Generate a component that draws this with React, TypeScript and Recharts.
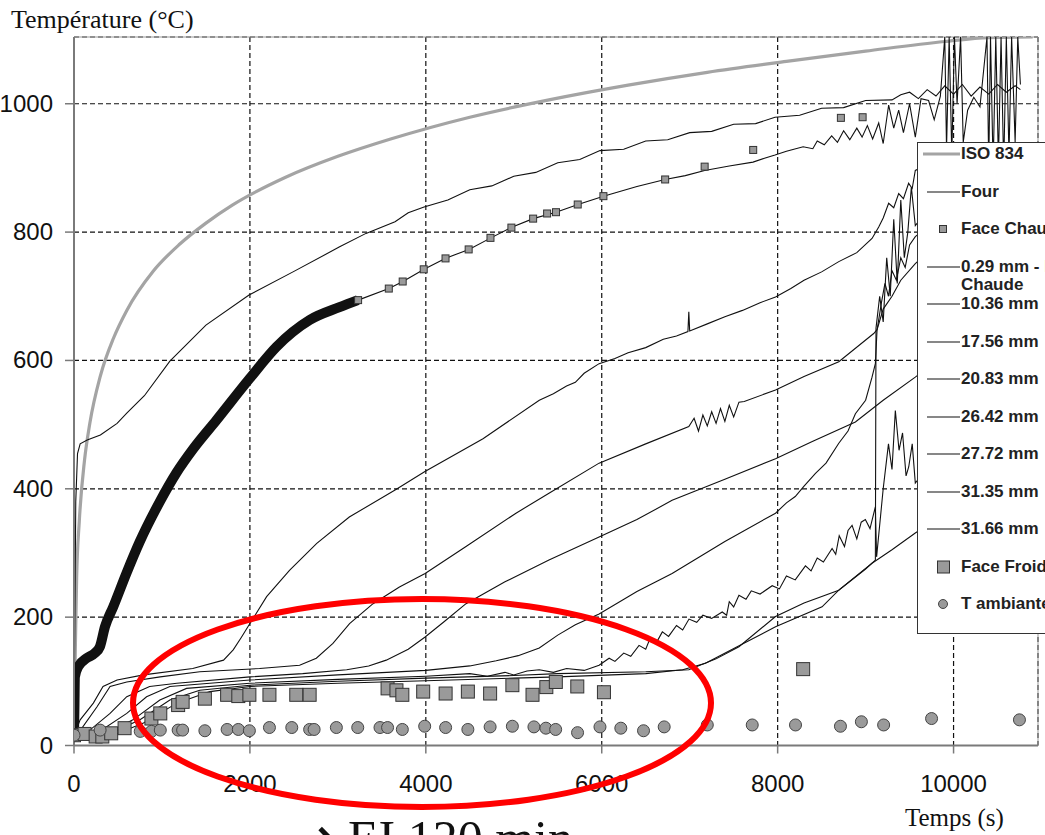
import { ComposedChart, Line, XAxis, YAxis, CartesianGrid, ReferenceLine } from "recharts";

type Pair = [number, number];

// temps (s) / température (°C)
const X_MAX = 10960;
const Y_MAX = 1104;
const X_TICKS = [0, 2000, 4000, 6000, 8000, 10000];
const Y_TICKS = [0, 200, 400, 600, 800, 1000];

const ISO_834: Pair[] = [
  [0, 20], [15, 150], [30, 261], [60, 349], [120, 445], [180, 502], [300, 576], [450, 635],
  [600, 678], [900, 739], [1200, 781], [1500, 814], [1800, 842], [2400, 885], [3000, 918],
  [3600, 945], [4500, 979], [5400, 1006], [6300, 1029], [7200, 1049], [8100, 1066],
  [9000, 1082], [9900, 1097], [10400, 1103], [10900, 1104],
];

const FOUR: Pair[] = [
  [0, 20], [20, 380], [40, 455], [70, 470], [150, 476], [300, 484], [490, 502], [600, 518],
  [800, 545], [1090, 599], [1500, 655], [1990, 702], [2490, 738], [3020, 777], [3320, 798],
  [3650, 816], [3800, 830], [3980, 839], [4250, 850], [4500, 866], [4750, 872], [5000, 887],
  [5250, 893], [5500, 908], [5750, 913], [5980, 927], [6250, 929], [6500, 942], [6750, 944],
  [7000, 955], [7250, 957], [7500, 968], [7750, 969], [7970, 979], [8250, 982], [8500, 993],
  [8750, 994], [9000, 1005], [9300, 1006], [9400, 1014], [9500, 1018], [9600, 1008],
  [9700, 1022], [9800, 1012], [9900, 1028], [10000, 1015], [10100, 1030], [10200, 1012],
  [10300, 1026], [10400, 1015], [10500, 1030], [10600, 1018], [10700, 1028], [10760, 1022],
];

// partie dense des marqueurs "Face Chaude"
const FACE_CHAUDE_DENSE: Pair[] = [
  [0, 16], [5, 60], [10, 107], [49, 123], [144, 136], [238, 144], [295, 154], [352, 185],
  [446, 216], [598, 269], [749, 318], [976, 380], [1165, 425], [1354, 462], [1620, 507],
  [1998, 572], [2300, 621], [2679, 663], [3019, 683], [3227, 694],
];

const FACE_CHAUDE: Pair[] = [
  [3230, 694], [3579, 712], [3737, 723], [3976, 742], [4224, 759], [4487, 773], [4735, 791],
  [4973, 807], [5220, 821], [5379, 829], [5480, 831], [5727, 843], [6019, 856], [6721, 882],
  [7170, 902], [7722, 928], [8719, 978], [8966, 979],
];

const MM_0_29: Pair[] = [
  [3230, 694], [3580, 712], [3740, 723], [3980, 742], [4220, 759], [4490, 773], [4740, 791],
  [4970, 807], [5220, 821], [5480, 831], [5730, 843], [6020, 856], [6400, 871], [6720, 882],
  [6950, 888], [7170, 896], [7450, 903], [7720, 909], [7850, 915], [7970, 920], [8100, 926],
  [8290, 933], [8400, 930], [8450, 942], [8530, 936], [8614, 950], [8680, 940], [8750, 958],
  [8820, 944], [8900, 962], [8960, 948], [9020, 966], [9080, 945], [9149, 970], [9200, 938],
  [9262, 998], [9320, 962], [9376, 990], [9430, 955], [9500, 1000], [9565, 948], [9630, 1008],
  [9716, 1005], [9780, 975], [9850, 1012], [9900, 1104], [9920, 930], [9950, 1104], [9980, 920],
  [10010, 1104], [10040, 1000], [10080, 1104], [10110, 940], [10160, 990], [10230, 1010],
  [10300, 995], [10380, 1104], [10400, 900], [10420, 1104], [10450, 900], [10480, 1104],
  [10510, 910], [10540, 1104], [10570, 900], [10600, 1104], [10630, 920], [10660, 1104],
  [10700, 940], [10730, 1104], [10760, 1030],
];

const MM_10_36: Pair[] = [
  [0, 16], [70, 40], [220, 66], [330, 92], [490, 102], [790, 110], [1350, 120], [1700, 133],
  [1810, 149], [1900, 168], [2000, 190], [2190, 232], [2450, 273], [2760, 315], [3130, 356],
  [3660, 399], [3990, 427], [4650, 478], [5290, 538], [5450, 548], [5600, 560], [5700, 566],
  [5800, 580], [5970, 595], [6150, 603], [6300, 612], [6500, 620], [6700, 633], [6850, 638],
  [6980, 645], [6990, 676], [7000, 646], [7200, 657], [7400, 668], [7600, 678], [7800, 690],
  [7976, 699], [8150, 712], [8300, 725], [8500, 738], [8695, 754], [8900, 768], [9073, 790],
  [9149, 808], [9200, 822], [9262, 845], [9320, 838], [9376, 860], [9430, 852], [9489, 876],
  [9530, 868], [9565, 896], [9700, 905], [10000, 915], [10400, 925],
];

const MM_17_56: Pair[] = [
  [0, 16], [100, 29], [260, 60], [410, 92], [600, 99], [980, 107], [1430, 115], [2110, 120],
  [2565, 125], [2755, 136], [2944, 159], [3133, 190], [3400, 221], [3700, 247], [3992, 268],
  [4457, 310], [5025, 362], [5400, 393], [5970, 440], [6500, 470], [6990, 497], [7050, 510],
  [7100, 490], [7150, 515], [7200, 498], [7250, 520], [7300, 502], [7350, 525], [7400, 505],
  [7450, 530], [7500, 512], [7560, 535], [7620, 536], [7976, 554], [8300, 575], [8695, 598],
  [9092, 642], [9130, 648], [9200, 680], [9300, 700], [9400, 725], [9565, 751], [9800, 780],
  [10200, 820],
];

const MM_20_83: Pair[] = [
  [0, 16], [180, 24], [410, 50], [600, 76], [860, 92], [1170, 97], [2000, 107], [2600, 112],
  [3100, 118], [3350, 124], [3550, 133], [3800, 150], [3992, 169], [4200, 192], [4457, 221],
  [4900, 255], [5400, 289], [5970, 325], [6400, 352], [6800, 382], [7400, 415], [7976, 447],
  [8400, 474], [8884, 504], [9200, 538], [9565, 574], [10000, 620], [10500, 680],
];

const MM_26_42: Pair[] = [
  [0, 16], [260, 19], [600, 50], [825, 76], [1090, 92], [1545, 97], [2000, 102], [3000, 110],
  [4000, 117], [4500, 124], [4800, 132], [5050, 140], [5290, 152], [5500, 172], [5700, 188],
  [5970, 205], [6400, 240], [6800, 268], [7400, 318], [7976, 362], [8100, 378], [8200, 388],
  [8300, 404], [8430, 424], [8550, 440], [8695, 471], [8800, 490], [8884, 517], [9000, 538],
  [9073, 574], [9111, 595], [9130, 647], [9180, 690], [9220, 720], [9260, 700], [9300, 740],
  [9350, 725], [9400, 760], [9450, 745], [9500, 780], [9565, 793], [10000, 840], [10500, 880],
];

const MM_27_72: Pair[] = [
  [0, 16], [330, 16], [670, 40], [976, 71], [1280, 89], [2000, 97], [3000, 103], [4000, 108],
  [4500, 112], [4700, 108], [4900, 114], [5000, 110], [5150, 116], [5290, 118], [5450, 114],
  [5600, 120], [5800, 117], [5970, 125], [6084, 136], [6150, 131], [6250, 144], [6330, 139],
  [6424, 156], [6500, 150], [6550, 167], [6620, 160], [6689, 177], [6760, 170], [6850, 187],
  [6920, 180], [6992, 197], [7080, 192], [7150, 203], [7250, 198], [7370, 208], [7420, 203],
  [7450, 224], [7500, 216], [7560, 234], [7640, 228], [7700, 241], [7800, 236], [7938, 249],
  [8020, 244], [8100, 264], [8200, 258], [8316, 280], [8380, 272], [8450, 292], [8520, 286],
  [8619, 307], [8660, 298], [8700, 327], [8760, 310], [8800, 335], [8846, 343], [8900, 322],
  [8950, 348], [8997, 352], [9050, 338], [9111, 372], [9125, 294], [9200, 400], [9260, 470],
  [9300, 430], [9338, 522], [9380, 460], [9420, 487], [9460, 420], [9490, 434], [9530, 470],
  [9565, 409], [9800, 450], [10200, 500],
];

const MM_31_35: Pair[] = [
  [0, 16], [370, 16], [750, 40], [1090, 71], [1430, 86], [2000, 94], [3000, 100], [4000, 105],
  [5000, 109], [5500, 112], [6500, 115], [6990, 118], [7300, 135], [7560, 154], [7976, 201],
  [8300, 222], [8695, 242], [9000, 275], [9111, 289], [9118, 650], [9160, 700], [9200, 660],
  [9240, 760], [9280, 700], [9320, 820], [9360, 720], [9400, 850], [9440, 760], [9480, 800],
  [9520, 870], [9565, 810], [9800, 850], [10200, 880],
];

const MM_31_66: Pair[] = [
  [0, 14], [410, 14], [790, 35], [1170, 66], [1545, 84], [2000, 92], [3000, 97], [4000, 101],
  [5000, 105], [5500, 107], [6500, 112], [6920, 118], [7180, 128], [7600, 158], [7976, 185],
  [8505, 216], [8695, 242], [9073, 284], [9300, 305], [9565, 331], [10000, 370], [10500, 420],
];

const FACE_FROIDE: Pair[] = [
  [0, 16], [120, 18], [246, 14], [322, 14], [423, 19], [575, 27], [880, 42], [981, 50],
  [1184, 63], [1235, 68], [1488, 73], [1741, 79], [1868, 77], [1994, 79], [2222, 79],
  [2527, 79], [2679, 79], [3565, 89], [3666, 86], [3733, 79], [3970, 84], [4225, 81],
  [4478, 84], [4731, 81], [4984, 94], [5213, 79], [5370, 91], [5478, 99], [5722, 92],
  [6025, 83], [8290, 119],
];

const T_AMBIANTE: Pair[] = [
  [0, 16], [297, 24], [753, 22], [880, 22], [981, 24], [1184, 24], [1235, 24], [1488, 23],
  [1741, 25], [1868, 25], [1994, 23], [2222, 28], [2476, 28], [2679, 25], [2730, 25],
  [2983, 28], [3226, 28], [3479, 28], [3565, 28], [3733, 25], [3987, 30], [4225, 28],
  [4478, 25], [4731, 29], [4984, 30], [5229, 29], [5365, 27], [5476, 25], [5725, 20],
  [5980, 29], [6217, 27], [6475, 23], [6710, 29], [7200, 32], [7711, 32], [8203, 32],
  [8714, 30], [8952, 37], [9205, 32], [9750, 42], [10749, 40],
];

const pts = (rows: Pair[]) => rows.map(([t, v]) => ({ t, v }));

const BLACK = "#111";
const ISO_GRAY = "#a4a4a4";
const MARK_FILL = "#9a9a9a";
const AXIS_GRAY = "#7a7a7a";
const SANS = "'Liberation Sans', Arial, sans-serif";
const SERIF = "'Liberation Serif', 'Times New Roman', serif";

const squareDot = (size: number, name: string) => (p: any) => {
  const key = `${name}-${p.index}`;
  if (p.cx == null || p.cy == null) return <g key={key} />;
  return (
    <rect key={key} x={p.cx - size / 2} y={p.cy - size / 2} width={size} height={size}
      fill={MARK_FILL} stroke="#333" strokeWidth={1} />
  );
};

const circleDot = (r: number, name: string) => (p: any) => {
  const key = `${name}-${p.index}`;
  if (p.cx == null || p.cy == null) return <g key={key} />;
  return <circle key={key} cx={p.cx} cy={p.cy} r={r} fill={MARK_FILL} stroke="#444" strokeWidth={1} />;
};

const XTick = (p: any) => (
  <text x={p.x} y={p.y} dy={36} textAnchor="middle" fontSize={24} fontFamily={SANS} fill="#111">
    {p.payload.value}
  </text>
);

const YTick = (p: any) => (
  <text x={p.x} y={p.y} dy={8} textAnchor="end" fontSize={24} fontFamily={SANS} fill="#111">
    {p.payload.value}
  </text>
);

type Kind = "iso" | "line" | "smallSquare" | "bigSquare" | "circle";

const LEGEND: { label: string[]; kind: Kind }[] = [
  { label: ["ISO 834"], kind: "iso" },
  { label: ["Four"], kind: "line" },
  { label: ["Face Chaude"], kind: "smallSquare" },
  { label: ["0.29 mm - Face", "Chaude"], kind: "line" },
  { label: ["10.36 mm"], kind: "line" },
  { label: ["17.56 mm"], kind: "line" },
  { label: ["20.83 mm"], kind: "line" },
  { label: ["26.42 mm"], kind: "line" },
  { label: ["27.72 mm"], kind: "line" },
  { label: ["31.35 mm"], kind: "line" },
  { label: ["31.66 mm"], kind: "line" },
  { label: ["Face Froide"], kind: "bigSquare" },
  { label: ["T ambiante"], kind: "circle" },
];

function LegendIcon({ kind }: { kind: Kind }) {
  return (
    <svg width={40} height={18} style={{ position: "absolute", left: 3, top: 0 }}>
      {kind === "iso" && <line x1={2} y1={9} x2={39} y2={9} stroke={ISO_GRAY} strokeWidth={3} />}
      {kind === "line" && <line x1={6} y1={9} x2={39} y2={9} stroke={BLACK} strokeWidth={1.2} />}
      {kind === "smallSquare" && <rect x={18.5} y={5.5} width={7} height={7} fill={MARK_FILL} stroke="#333" />}
      {kind === "bigSquare" && <rect x={16.5} y={3} width={12} height={12} fill={MARK_FILL} stroke="#333" />}
      {kind === "circle" && <circle cx={22} cy={9} r={4.5} fill={MARK_FILL} stroke="#444" />}
    </svg>
  );
}

function LegendBox() {
  return (
    <div style={{
      position: "absolute", left: 917, top: 142, width: 180, height: 492, background: "#fff",
      border: "1.5px solid #333", boxSizing: "border-box", fontFamily: SANS, fontWeight: 700,
      fontSize: 17, color: "#222",
    }}>
      {LEGEND.map((row, i) => (
        <div key={row.label.join(" ")} style={{ position: "absolute", left: 0, top: 2 + i * 37.5, width: 180, height: 18 }}>
          <LegendIcon kind={row.kind} />
          <div style={{ position: "absolute", left: 43, top: 0, lineHeight: "18px", whiteSpace: "nowrap" }}>
            {row.label.map((l) => <div key={l}>{l}</div>)}
          </div>
        </div>
      ))}
    </div>
  );
}

export default function App() {
  const thin = { stroke: BLACK, strokeWidth: 1.1, dot: false, activeDot: false, isAnimationActive: false } as const;
  return (
    <div style={{ position: "absolute", left: 0, top: 0, width: 1045, height: 835, overflow: "hidden", background: "#fff" }}>
      <ComposedChart width={1045} height={835} margin={{ top: 37, right: 7, bottom: 49.5, left: 14 }}>
        <CartesianGrid stroke={BLACK} strokeDasharray="5 3" strokeWidth={1.2} />
        <XAxis type="number" dataKey="t" domain={[0, X_MAX]} ticks={X_TICKS} allowDataOverflow height={40}
          tickSize={8} tickMargin={2} tick={<XTick />} axisLine={{ stroke: AXIS_GRAY, strokeWidth: 2 }}
          tickLine={{ stroke: AXIS_GRAY, strokeWidth: 1.5 }} />
        <YAxis type="number" domain={[0, Y_MAX]} ticks={Y_TICKS} allowDataOverflow width={60}
          tickSize={9} tickMargin={12} tick={<YTick />} axisLine={{ stroke: AXIS_GRAY, strokeWidth: 2 }}
          tickLine={{ stroke: AXIS_GRAY, strokeWidth: 1.5 }} />
        <ReferenceLine y={Y_MAX} stroke="#999" strokeWidth={1} />
        <ReferenceLine x={X_MAX} stroke="#999" strokeWidth={1} />

        <Line data={pts(ISO_834)} dataKey="v" name="ISO 834" type="monotone" stroke={ISO_GRAY} strokeWidth={3.2}
          dot={false} activeDot={false} isAnimationActive={false} />
        <Line data={pts(FOUR)} dataKey="v" name="Four" {...thin} />
        <Line data={pts(MM_0_29)} dataKey="v" name="0.29 mm - Face Chaude" {...thin} />
        <Line data={pts(MM_10_36)} dataKey="v" name="10.36 mm" {...thin} />
        <Line data={pts(MM_17_56)} dataKey="v" name="17.56 mm" {...thin} />
        <Line data={pts(MM_20_83)} dataKey="v" name="20.83 mm" {...thin} />
        <Line data={pts(MM_26_42)} dataKey="v" name="26.42 mm" {...thin} />
        <Line data={pts(MM_27_72)} dataKey="v" name="27.72 mm" {...thin} />
        <Line data={pts(MM_31_35)} dataKey="v" name="31.35 mm" {...thin} />
        <Line data={pts(MM_31_66)} dataKey="v" name="31.66 mm" {...thin} />
        <Line data={pts(FACE_CHAUDE_DENSE)} dataKey="v" name="Face Chaude (dense)" type="monotone" stroke={BLACK}
          strokeWidth={10} strokeLinejoin="round" dot={false} activeDot={false} isAnimationActive={false} />
        <Line data={pts(FACE_CHAUDE)} dataKey="v" name="Face Chaude" stroke="none"
          dot={squareDot(7, "fc")} activeDot={false} isAnimationActive={false} />
        <Line data={pts(FACE_FROIDE)} dataKey="v" name="Face Froide" stroke="none"
          dot={squareDot(13, "ff")} activeDot={false} isAnimationActive={false} />
        <Line data={pts(T_AMBIANTE)} dataKey="v" name="T ambiante" stroke="none"
          dot={circleDot(6, "ta")} activeDot={false} isAnimationActive={false} />
      </ComposedChart>

      <svg width={1045} height={835} style={{ position: "absolute", left: 0, top: 0, pointerEvents: "none" }}>
        <text x={11} y={28} fontFamily={SERIF} fontSize={26} fill="#111">Température (°C)</text>
        <text x={905} y={826} fontFamily={SERIF} fontSize={25} fill="#111">Temps (s)</text>
        <ellipse cx={422} cy={703} rx={289} ry={104} fill="none" stroke="#ff0000" strokeWidth={6} />
        <text x={292} y={854} fontFamily="'DejaVu Sans', sans-serif" fontWeight={700} fontSize={50} fill="#111">→</text>
        <text x={348} y={855} fontFamily={SERIF} fontSize={50} fill="#111">EI 120 min</text>
      </svg>

      <LegendBox />
    </div>
  );
}
